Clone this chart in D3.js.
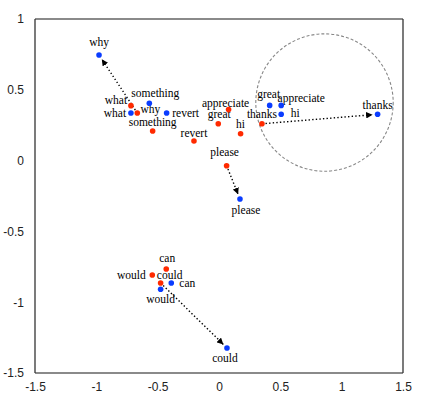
<!DOCTYPE html>
<html>
<head>
<meta charset="utf-8">
<script src="https://cdn.jsdelivr.net/npm/d3@7"></script>
<style>
  body { margin: 0; background: #fff; }
  svg { display: block; }
</style>
</head>
<body>
<script>
// words and their two embeddings (red = before, blue = after)
var words = ['why', 'what', 'something', 'revert', 'appreciate', 'great',
             'hi', 'thanks', 'please', 'can', 'would', 'could'];
var redX  = [-0.666, -0.718, -0.541, -0.204, 0.078, -0.006, 0.176, 0.350, 0.062, -0.430, -0.544, -0.476];
var redY  = [ 0.336,  0.388,  0.209,  0.138, 0.360,  0.260, 0.190, 0.260, -0.036, -0.766, -0.808, -0.864];
var blueX = [-0.978, -0.718, -0.568, -0.427, 0.507, 0.413, 0.507, 1.293, 0.171, -0.389, -0.476, 0.065];
var blueY = [ 0.746,  0.336,  0.405,  0.336, 0.390, 0.390, 0.327, 0.327, -0.271, -0.864, -0.909, -1.323];

// words whose shift is drawn as an arrow
var moved = ['why', 'thanks', 'please', 'could'];

// highlighted region
var circleCenter = [0.86, 0.41];
var circleRadius = 0.56;

var xTicks = [-1.5, -1, -0.5, 0, 0.5, 1, 1.5];
var yTicks = [1, 0.5, 0, -0.5, -1, -1.5];

var WIDTH = 431, HEIGHT = 399;
var margin = {top: 19, right: 28, bottom: 26, left: 35};
var w = WIDTH - margin.left - margin.right;
var h = HEIGHT - margin.top - margin.bottom;

var x = d3.scaleLinear().domain([-1.5, 1.5]).range([0, w]);
var y = d3.scaleLinear().domain([-1.5, 1]).range([h, 0]);

var svg = d3.select('body').append('svg')
            .attr('width', WIDTH)
            .attr('height', HEIGHT);

svg.append('defs').append('marker')
   .attr('id', 'head')
   .attr('viewBox', '0 0 10 10')
   .attr('refX', 10).attr('refY', 5)
   .attr('markerWidth', 6.5).attr('markerHeight', 6.5)
   .attr('markerUnits', 'userSpaceOnUse')
   .attr('orient', 'auto')
 .append('path')
   .attr('d', 'M0,0 L10,5 L0,10 z')
   .attr('fill', '#000');

var g = svg.append('g')
           .attr('transform', 'translate(' + margin.left + ',' + margin.top + ')');

// axes: labels only, frame drawn by hand
var yAxis = g.append('g')
             .call(d3.axisLeft(y).tickValues(yTicks).tickSize(0).tickPadding(11)
                     .tickFormat(function(d) { return String(d); }));
var xAxis = g.append('g')
             .attr('transform', 'translate(0,' + h + ')')
             .call(d3.axisBottom(x).tickValues(xTicks).tickSize(0).tickPadding(9)
                     .tickFormat(function(d) { return String(d); }));
[yAxis, xAxis].forEach(function(a) {
  a.select('.domain').remove();
  a.selectAll('text')
   .attr('font-family', '"Liberation Sans", Arial, sans-serif')
   .attr('font-size', 12)
   .attr('fill', '#222');
});

// frame: grey top/bottom, dark left/right
g.append('line').attr('x1', 0).attr('x2', w).attr('y1', 0).attr('y2', 0)
 .attr('stroke', '#8a8a8a').attr('stroke-width', 2);
g.append('line').attr('x1', 0).attr('x2', w).attr('y1', h).attr('y2', h)
 .attr('stroke', '#8a8a8a').attr('stroke-width', 2);
g.append('line').attr('x1', 0).attr('x2', 0).attr('y1', 0).attr('y2', h)
 .attr('stroke', '#333').attr('stroke-width', 1.3);
g.append('line').attr('x1', w).attr('x2', w).attr('y1', 0).attr('y2', h)
 .attr('stroke', '#333').attr('stroke-width', 1.3);

// dashed circle
g.append('circle')
 .attr('cx', x(circleCenter[0]))
 .attr('cy', y(circleCenter[1]))
 .attr('r', x(circleRadius) - x(0))
 .attr('fill', 'none')
 .attr('stroke', '#888')
 .attr('stroke-width', 1.1)
 .attr('stroke-dasharray', '3,2');

// arrows, stopping a little before the blue dot
moved.forEach(function(word) {
  var i = words.indexOf(word);
  var x1 = x(redX[i]), y1 = y(redY[i]);
  var x2 = x(blueX[i]), y2 = y(blueY[i]);
  var len = Math.hypot(x2 - x1, y2 - y1);
  var k = (len - 5) / len;
  g.append('line')
   .attr('x1', x1).attr('y1', y1)
   .attr('x2', x1 + (x2 - x1) * k).attr('y2', y1 + (y2 - y1) * k)
   .attr('stroke', '#000')
   .attr('stroke-width', 1.4)
   .attr('stroke-dasharray', '1.4,2.2')
   .attr('marker-end', 'url(#head)');
});

// label offsets (text centre / baseline relative to the dot)
var redOff = {
  why: [13, 0], what: [-15, -2], something: [0, -5], revert: [0, -4],
  appreciate: [-3, -3], great: [1, -6], hi: [0, -6], thanks: [0, -6],
  please: [-2, -10], can: [1, -7], would: [-21, 4], could: [9, -4]
};
var blueOff = {
  why: [0, -9], what: [-16, 4], something: [6, -6], revert: [19, 4],
  appreciate: [20, -3], great: [-1, -7], hi: [14, 3], thanks: [0, -5],
  please: [6, 15], can: [16, 4], would: [0, 14], could: [-2, 14]
};

function drawSeries(xs, ys, color, off) {
  var pts = words.map(function(word, i) { return {word: word, x: xs[i], y: ys[i]}; });
  g.selectAll(null).data(pts).enter()
   .append('text')
     .attr('x', function(d) { return x(d.x) + off[d.word][0]; })
     .attr('y', function(d) { return y(d.y) + off[d.word][1]; })
     .attr('text-anchor', 'middle')
     .attr('font-family', '"Liberation Serif", "Times New Roman", serif')
     .attr('font-size', 11.5)
     .attr('fill', '#000')
     .text(function(d) { return d.word; });
  g.selectAll(null).data(pts).enter()
   .append('circle')
     .attr('cx', function(d) { return x(d.x); })
     .attr('cy', function(d) { return y(d.y); })
     .attr('r', 2.8)
     .attr('fill', color);
}

drawSeries(redX, redY, '#ff2a00', redOff);
drawSeries(blueX, blueY, '#0a3cff', blueOff);
</script>
</body>
</html>
